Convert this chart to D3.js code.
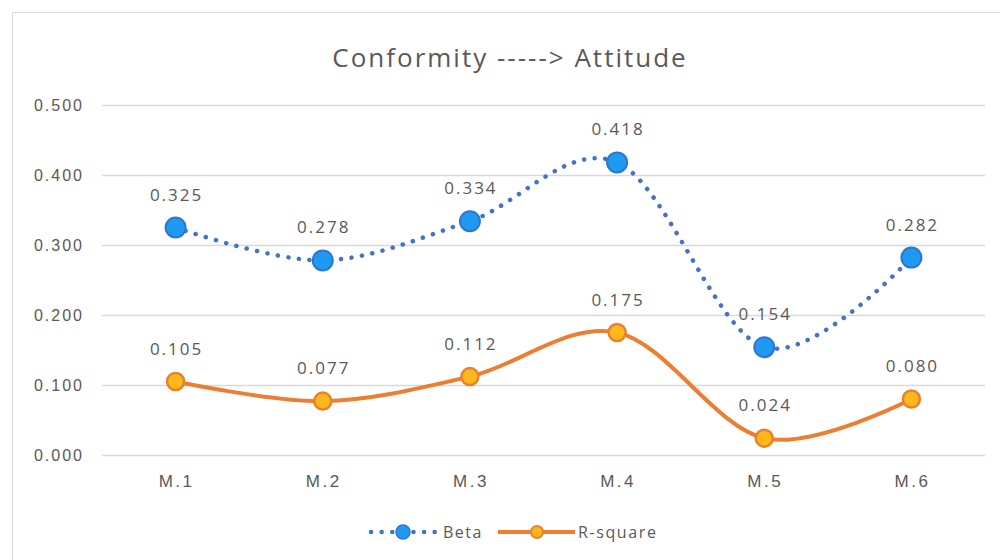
<!DOCTYPE html>
<html><head><meta charset="utf-8">
<script src="https://cdn.jsdelivr.net/npm/d3@7"></script>
<style>body{margin:0;background:#fff}svg{display:block;font-family:"Open Sans","Noto Sans",sans-serif}</style>
</head><body><svg id="c" width="1000" height="560"></svg>
<script>
const categories = ["M.1","M.2","M.3","M.4","M.5","M.6"];
const beta = [0.325,0.278,0.334,0.418,0.154,0.282];
const rsquare = [0.105,0.077,0.112,0.175,0.024,0.080];
const yTicks = [0,0.1,0.2,0.3,0.4,0.5];

const svg = d3.select("#c");
svg.append("rect").attr("x",12.5).attr("y",12.5).attr("width",1000).attr("height",560)
  .attr("fill","#fff").attr("stroke","#d9d9d9");

const x = d3.scaleBand().domain(categories).range([102,985]);
const y = d3.scaleLinear().domain([0,0.5]).range([455,105]);
const cx = d => x(d)+x.bandwidth()/2;

svg.append("text").attr("x",510).attr("y",67).attr("text-anchor","middle")
  .attr("font-size",26).attr("letter-spacing",2).attr("fill","#595959").text("Conformity -----> Attitude");

const ya = svg.append("g").attr("transform","translate(102,0)")
  .call(d3.axisLeft(y).tickValues(yTicks).tickFormat(d3.format(".3f")).tickSize(-883).tickPadding(18));
ya.select(".domain").remove();
ya.selectAll("line").attr("stroke","#d9d9d9").attr("stroke-width",1.3);
ya.selectAll("text").attr("fill","#595959").attr("font-size",16).attr("letter-spacing",2);

const xa = svg.append("g").attr("transform","translate(0,455)")
  .call(d3.axisBottom(x).tickSize(0).tickPadding(20));
xa.select(".domain").remove();
xa.selectAll("text").attr("fill","#595959").attr("font-size",17).attr("letter-spacing",2.5).attr("dx",1);

const line = d3.line().curve(d3.curveCardinal.tension(0)).x((d,i)=>cx(categories[i])).y(d=>y(d));

svg.append("path").datum(beta).attr("d",line).attr("fill","none")
  .attr("stroke","#4472C4").attr("stroke-width",4.5).attr("stroke-dasharray","0.1 10.5").attr("stroke-linecap","round");
svg.append("path").datum(rsquare).attr("d",line).attr("fill","none")
  .attr("stroke","#ED7D31").attr("stroke-width",4);

svg.selectAll(".bm").data(beta).join("circle").attr("cx",(d,i)=>cx(categories[i])).attr("cy",d=>y(d))
  .attr("r",10).attr("fill","#1E9BF0").attr("stroke","#2E75D6").attr("stroke-width",2);
svg.selectAll(".rm").data(rsquare).join("circle").attr("cx",(d,i)=>cx(categories[i])).attr("cy",d=>y(d))
  .attr("r",8.5).attr("fill","#FFB81C").attr("stroke","#E8822A").attr("stroke-width",2.5);

const lab = (arr) => svg.append("g").selectAll("text").data(arr).join("text")
  .attr("x",(d,i)=>cx(categories[i])+1).attr("y",d=>y(d)-27).attr("text-anchor","middle")
  .attr("font-size",17).attr("letter-spacing",2).attr("fill","#595959").text(d=>d3.format(".3f")(d));
lab(beta); lab(rsquare);

// legend
const lg = svg.append("g");
lg.append("line").attr("x1",371).attr("x2",435).attr("y1",532).attr("y2",532)
  .attr("stroke","#4472C4").attr("stroke-width",4.5).attr("stroke-dasharray","0.1 10.5").attr("stroke-linecap","round");
lg.append("circle").attr("cx",403).attr("cy",532).attr("r",7).attr("fill","#1E9BF0").attr("stroke","#2E75D6").attr("stroke-width",1.5);
lg.append("text").attr("x",443).attr("y",537.5).attr("font-size",16).attr("letter-spacing",1.5).attr("fill","#595959").text("Beta");
lg.append("line").attr("x1",498).attr("x2",575).attr("y1",532).attr("y2",532)
  .attr("stroke","#ED7D31").attr("stroke-width",4);
lg.append("circle").attr("cx",537).attr("cy",532).attr("r",6).attr("fill","#FFB81C").attr("stroke","#E8822A").attr("stroke-width",2);
lg.append("text").attr("x",578).attr("y",537.5).attr("font-size",16).attr("letter-spacing",1.6).attr("fill","#595959").text("R-square");
</script></body></html>
